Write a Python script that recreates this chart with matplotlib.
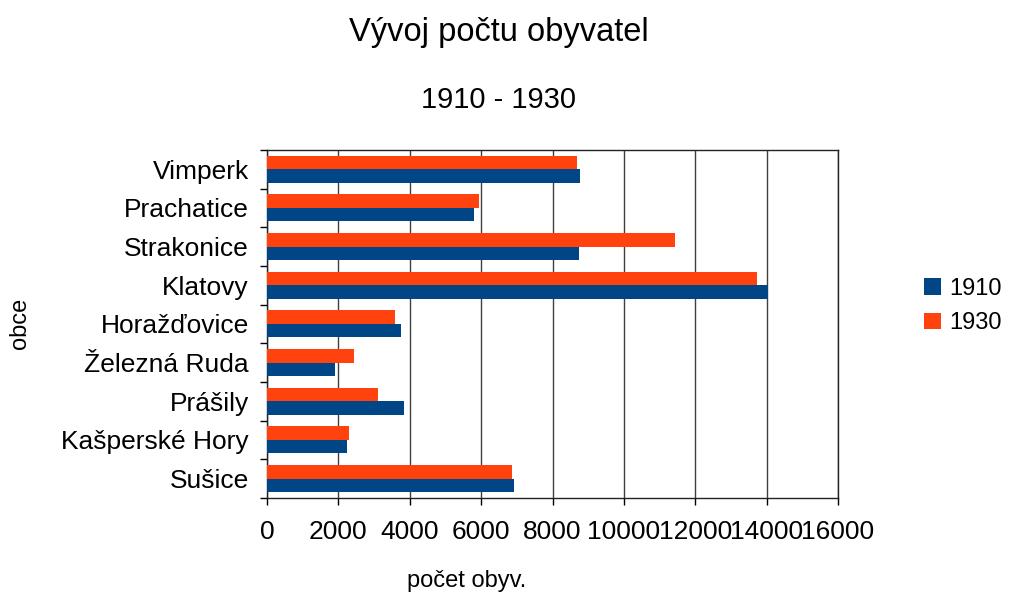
import numpy as np
import matplotlib.pyplot as plt

plt.rcParams['font.family'] = ['Liberation Sans', 'DejaVu Sans']

# --- DATA ---
obce = ['Vimperk', 'Prachatice', 'Strakonice', 'Klatovy', 'Horažďovice',
        'Železná Ruda', 'Prášily', 'Kašperské Hory', 'Sušice']
pop_1910 = [8780, 5810, 8730, 14030, 3750, 1900, 3830, 2230, 6930]
pop_1930 = [8700, 5940, 11420, 13730, 3580, 2430, 3110, 2300, 6870]
x_ticks = [0, 2000, 4000, 6000, 8000, 10000, 12000, 14000, 16000]

fig = plt.figure(figsize=(10.1, 5.97), dpi=100)
ax = fig.add_axes([0.2644, 0.166, 0.5653, 0.583])

y = np.arange(len(obce))[::-1]
h = 0.35
ax.barh(y - h / 2, pop_1910, height=h, color='#004586', label='1910', zorder=3)
ax.barh(y + h / 2, pop_1930, height=h, color='#ff420e', label='1930', zorder=3)

ax.set_xlim(0, 16000)
ax.set_ylim(-0.5, len(obce) - 0.5)
ax.set_xticks(x_ticks)
ax.set_xticklabels([str(v) for v in x_ticks], fontsize=19)
ax.set_yticks(y)
ax.set_yticklabels(obce, fontsize=19)
ax.set_yticks(np.arange(len(obce) + 1) - 0.5, minor=True)
ax.tick_params(axis='y', which='major', length=0, pad=13)
ax.tick_params(axis='y', which='minor', length=5, width=1, direction='out')
ax.tick_params(axis='x', which='major', length=5, width=1, direction='out', pad=11)
ax.grid(axis='x', color='#404040', linewidth=1, zorder=0)
for s in ax.spines.values():
    s.set_linewidth(1)
    s.set_color('#222222')

ax.set_xlabel('počet obyv.', fontsize=17, va='center')
ax.xaxis.set_label_coords(0.35, -0.24)
ax.set_ylabel('obce', fontsize=17, va='center')
ax.yaxis.set_label_coords(-0.432, 0.5)

fig.text(0.494, 0.946, 'Vývoj počtu obyvatel', ha='center', va='center', fontsize=23.5)
fig.text(0.494, 0.8325, '1910 - 1930', ha='center', va='center', fontsize=21)

fig.legend(loc='center left', bbox_to_anchor=(924 / 1010, 1 - 306 / 597),
           frameon=False, fontsize=17, handlelength=0.7, handleheight=0.7,
           handletextpad=0.35, labelspacing=0.55, borderpad=0, borderaxespad=0)

fig.savefig('out.png', dpi=100)
